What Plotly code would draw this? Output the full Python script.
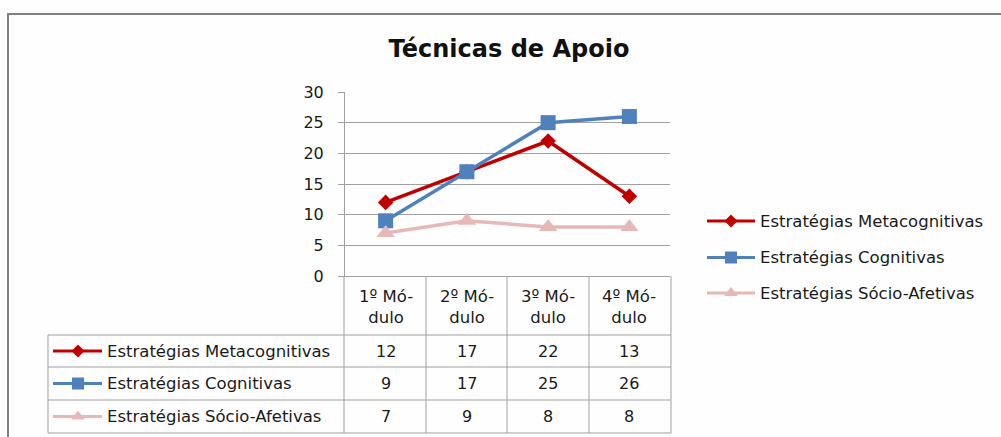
import plotly.graph_objects as go

W, H = 1001, 437

# Data
modules = ["1º Módulo", "2º Módulo", "3º Módulo", "4º Módulo"]
module_headers = ["1º Mó-<br>dulo", "2º Mó-<br>dulo", "3º Mó-<br>dulo", "4º Mó-<br>dulo"]
series_names = ["Estratégias Metacognitivas", "Estratégias Cognitivas", "Estratégias Sócio-Afetivas"]
metacognitivas = [12, 17, 22, 13]
cognitivas = [9, 17, 25, 26]
socio_afetivas = [7, 9, 8, 8]
y_ticks = [0, 5, 10, 15, 20, 25, 30]

series_values = [metacognitivas, cognitivas, socio_afetivas]
colors = ["#C00000", "#4F81BD", "#E6B9B8"]
symbols = ["diamond", "square", "triangle-up"]
marker_sizes = [12, 15, 16]
key_marker_sizes = [10, 12, 12]

FONT = "DejaVu Sans"
FS = 16.5
FS_NUM = 16
TEXT = "#1a1a1a"
GRID = "#A0A0A0"
TABLE = "#A0A0A0"

# plot area in pixels
PX0, PX1 = 345, 670
PY0, PY1 = 92, 276

fig = go.Figure()

for name, vals, col, sym, ms in zip(series_names, series_values, colors, symbols, marker_sizes):
    fig.add_trace(go.Scatter(
        x=modules, y=vals, name=name, mode="lines+markers",
        line=dict(color=col, width=3.5),
        marker=dict(symbol=sym, size=ms, color=col),
        xaxis="x", yaxis="y", showlegend=False,
    ))

# legend keys (right side and inside the data table), pixel overlay axes
legend_rows = [221, 257.5, 293]
table_rows = [(335, 367), (367, 400), (400, 433)]
for i, (name, col, sym, ms) in enumerate(zip(series_names, colors, symbols, key_marker_sizes)):
    ly = legend_rows[i]
    fig.add_trace(go.Scatter(x=[707, 755], y=[ly, ly], mode="lines", line=dict(color=col, width=3),
                             xaxis="x2", yaxis="y2", showlegend=False, hoverinfo="skip"))
    fig.add_trace(go.Scatter(x=[731], y=[ly], mode="markers", marker=dict(symbol=sym, size=ms, color=col),
                             xaxis="x2", yaxis="y2", showlegend=False, hoverinfo="skip"))
    fig.add_annotation(x=758, y=ly, xref="x2", yref="y2", text=name, showarrow=False,
                       xanchor="left", yanchor="middle", font=dict(family=FONT, size=FS, color=TEXT))
    ty = (table_rows[i][0] + table_rows[i][1]) / 2
    fig.add_trace(go.Scatter(x=[53, 102], y=[ty, ty], mode="lines", line=dict(color=col, width=3),
                             xaxis="x2", yaxis="y2", showlegend=False, hoverinfo="skip"))
    fig.add_trace(go.Scatter(x=[78], y=[ty], mode="markers", marker=dict(symbol=sym, size=ms, color=col),
                             xaxis="x2", yaxis="y2", showlegend=False, hoverinfo="skip"))
    fig.add_annotation(x=105, y=ty, xref="x2", yref="y2", text=name, showarrow=False,
                       xanchor="left", yanchor="middle", font=dict(family=FONT, size=FS, color=TEXT))
    for m, v in zip(modules, series_values[i]):
        fig.add_annotation(x=m, y=ty, xref="x", yref="y2", text=str(v), showarrow=False,
                           xanchor="center", yanchor="middle", font=dict(family=FONT, size=FS_NUM, color=TEXT))

# module headers
for m, hdr in zip(modules, module_headers):
    fig.add_annotation(x=m, y=306.5, xref="x", yref="y2", text=hdr, showarrow=False,
                       xanchor="center", yanchor="middle", font=dict(family=FONT, size=FS, color=TEXT))

shapes = []
# outer chart frame
shapes.append(dict(type="rect", xref="x2", yref="y2", x0=8, y0=14, x1=1020, y1=460,
                   line=dict(color="#808080", width=2)))
# table grid
col_edges = [344, 426, 507, 589, 671]
for y in [335, 367, 400, 433]:
    shapes.append(dict(type="line", xref="x2", yref="y2", x0=48, x1=671, y0=y, y1=y,
                       line=dict(color=TABLE, width=1)))
shapes.append(dict(type="line", xref="x2", yref="y2", x0=48, x1=48, y0=335, y1=433,
                   line=dict(color=TABLE, width=1)))
for x in col_edges:
    shapes.append(dict(type="line", xref="x2", yref="y2", x0=x, x1=x, y0=PY1, y1=433,
                       line=dict(color=TABLE, width=1)))
fig.update_layout(shapes=shapes)

fig.update_layout(
    width=W, height=H,
    margin=dict(l=0, r=0, t=0, b=0, pad=0, autoexpand=False),
    paper_bgcolor="#FEFEFE", plot_bgcolor="rgba(0,0,0,0)",
    title=dict(text="<b>Técnicas de Apoio</b>", x=509 / W, xanchor="center", y=1 - 49 / H, yanchor="middle",
               automargin=False, font=dict(family=FONT, size=24, color="#111111")),
    xaxis=dict(domain=[PX0 / W, PX1 / W], type="category", categoryorder="array", categoryarray=modules,
               range=[-0.5, 3.5], showticklabels=False, showgrid=False, zeroline=False,
               showline=True, linecolor=GRID, linewidth=1, anchor="y"),
    yaxis=dict(domain=[1 - PY1 / H, 1 - PY0 / H], range=[0, 30], tickvals=y_ticks,
               showgrid=True, gridcolor=GRID, gridwidth=1, zeroline=False,
               showline=True, linecolor=GRID, linewidth=1,
               ticks="outside", ticklen=6, tickcolor=GRID, ticklabelstandoff=11,
               tickfont=dict(family=FONT, size=FS_NUM, color=TEXT), anchor="x"),
    xaxis2=dict(domain=[0, 1], range=[0, W], visible=False, anchor="y2", fixedrange=True),
    yaxis2=dict(domain=[0, 1], range=[H, 0], visible=False, anchor="x2", fixedrange=True),
)

fig.write_html("out.html")
